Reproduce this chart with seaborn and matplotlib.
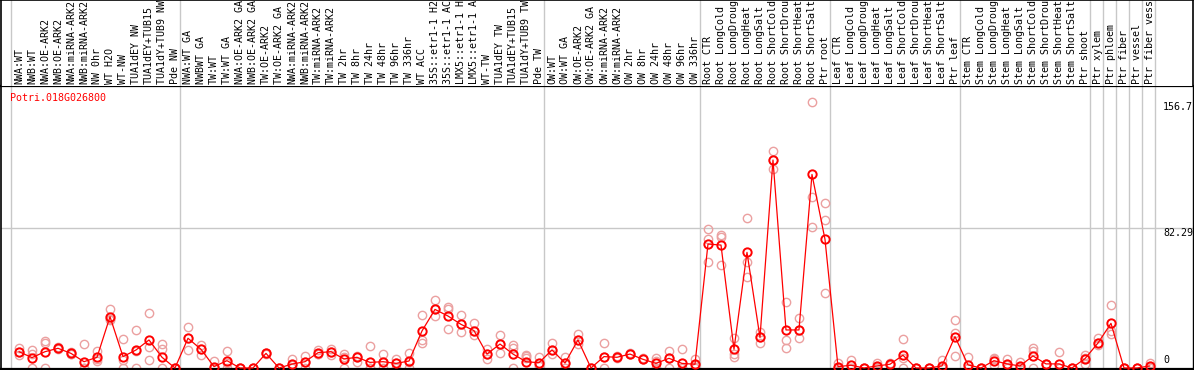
import numpy as np
import pandas as pd
import matplotlib
matplotlib.use("Agg")
import matplotlib.pyplot as plt
import seaborn as sns

# Column labels as they are visible in the header (cut to the header height)
labels = [
    "NWA:WT", "NWB:WT", "NWA:OE-ARK2", "NWB:OE-ARK2", "NWA:miRNA-ARK2", "NWB:miRNA-ARK2",
    "NW 0hr", "WT H2O", "WT-NW", "TUA1dEY NW", "TUA1dEY+TUB15", "TUA1dY+TUB9 NW", "Pde NW",
    "NWA:WT GA", "NWBWT GA", "TW:WT", "TW:WT GA", "NWA:OE-ARK2 GA", "NWB:OE-ARK2 GA",
    "TW:OE-ARK2", "TW:OE-ARK2 GA", "NWA:miRNA-ARK2", "NWB:miRNA-ARK2", "TW:miRNA-ARK2",
    "TW:miRNA-ARK2", "TW 2hr", "TW 8hr", "TW 24hr", "TW 48hr", "TW 96hr", "TW 336hr",
    "WT ACC", "35S::etr1-1 H2", "35S::etr1-1 AC", "LMX5::etr1-1 H", "LMX5::etr1-1 A",
    "WT-TW", "TUA1dEY TW", "TUA1dEY+TUB15", "TUA1dY+TUB9 TW", "Pde TW",
    "OW:WT", "OW:WT GA", "OW:OE-ARK2", "OW:OE-ARK2 GA", "OW:miRNA-ARK2", "OW:miRNA-ARK2",
    "OW 2hr", "OW 8hr", "OW 24hr", "OW 48hr", "OW 96hr", "OW 336hr",
    "Root CTR", "Root LongCold", "Root LongDroug", "Root LongHeat", "Root LongSalt",
    "Root ShortCold", "Root ShortDrou", "Root ShortHeat", "Root ShortSalt", "Ptr root",
    "Leaf CTR", "Leaf LongCold", "Leaf LongDroug", "Leaf LongHeat", "Leaf LongSalt",
    "Leaf ShortCold", "Leaf ShortDrou", "Leaf ShortHeat", "Leaf ShortSalt", "Ptr leaf",
    "Stem CTR", "Stem LongCold", "Stem LongDroug", "Stem LongHeat", "Stem LongSalt",
    "Stem ShortCold", "Stem ShortDrou", "Stem ShortHeat", "Stem ShortSalt", "Ptr shoot",
    "Ptr xylem", "Ptr phloem", "Ptr fiber", "Ptr vessel", "Ptr fiber vess",
]

means = [9.6, 6.1, 9.6, 11.6, 8.6, 3.7, 6.3, 30.2, 6.7, 10.6, 16.5, 6.3, 0,
         17.5, 11.0, 0.8, 4.3, 0, 0, 8.6, 0, 2.3, 3.7, 9.0, 9.6, 5.3, 6.3, 3.3, 3.7, 2.7, 4.1,
         21.8, 34.5, 30.6, 25.7, 22.0, 8.2, 14.1, 8.2, 3.7, 3.1,
         10.6, 2.9, 16.5, 0, 6.7, 6.3, 8.2, 5.1, 2.7, 5.7, 2.7, 2.2,
         73.0, 72.4, 11.0, 68.1, 18.0, 122.5, 22.4, 22.4, 114.0, 75.8,
         0.8, 1.6, 0, 1.2, 2.2, 7.5, 0, 0, 1.2, 18.5,
         1.8, 0, 4.3, 2.4, 1.2, 7.1, 2.4, 2.4, 0, 5.5,
         14.7, 26.3, 0, 0, 1.2]

rep1 = [12.0, 10.6, 15.9, 12.5, 9.5, 14.0, 10.2, 34.5, 16.9, 22.4, 32.2, 14.3, 0,
        24.3, 13.5, 4.1, 10.0, 0, 0, 9.0, 0, 5.3, 7.1, 10.6, 11.2, 8.1, 7.2, 13.0, 8.1, 5.3, 9.0,
        31.2, 40.1, 36.1, 31.2, 26.3, 11.0, 19.4, 13.5, 7.7, 6.7,
        14.6, 6.6, 19.8, 0, 14.5, 7.0, 9.0, 5.7, 5.7, 10.2, 11.0, 5.1,
        81.7, 78.3, 17.5, 88.1, 21.4, 127.8, 38.7, 29.3, 156.7, 97.0,
        2.7, 4.7, 0, 3.1, 3.1, 16.9, 0, 0, 4.7, 28.3,
        6.3, 0, 6.1, 5.3, 3.5, 11.6, 2.4, 9.6, 0, 7.5,
        17.5, 36.9, 0, 0, 3.1]

rep2 = [9.6, 8.0, 14.5, 11.0, 8.0, 0, 5.0, 29.0, 4.7, 10.0, 12.2, 11.0, 0,
        10.6, 7.6, 0, 0, 0, 0, 8.2, 0, 1.5, 0, 8.5, 7.7, 6.5, 3.6, 0, 3.7, 2.7, 3.5,
        16.5, 30.4, 34.5, 21.4, 19.4, 5.1, 8.6, 11.5, 6.8, 2.0,
        8.1, 0, 16.5, 0, 0, 6.0, 8.0, 5.0, 4.0, 0, 0, 0,
        75.8, 77.0, 8.0, 62.6, 18.0, 122.5, 16.5, 17.5, 100.9, 87.2,
        0, 0, 0, 0.5, 2.0, 5.6, 0, 0, 0, 20.4,
        0, 0, 5.0, 2.0, 0.5, 10.0, 2.4, 0, 0, 2.4,
        13.3, 22.0, 0, 0, 0.5]

rep3 = [7.6, 0, 0, 11.5, 8.5, 0, 4.0, 28.0, 0, 0, 4.7, 0, 0,
        17.5, 11.0, 0, 3.0, 0, 0, 8.6, 0, 0, 3.7, 8.0, 9.6, 0, 6.3, 0, 0, 0, 0,
        14.5, 34.5, 22.8, 25.7, 22.0, 8.2, 14.1, 0, 6.1, 1.0,
        10.6, 2.7, 14.0, 0, 6.7, 6.3, 8.2, 5.1, 0, 5.7, 0, 1.5,
        62.6, 60.6, 6.6, 53.4, 14.5, 117.0, 11.6, 22.4, 83.2, 44.0,
        0, 0, 0, 0, 1.5, 0, 0, 0, 0, 7.1,
        0, 0, 1.8, 0, 0, 0, 2.4, 0, 0, 6.0,
        14.5, 20.0, 0, 0, 0]

group_starts = [0, 13, 41, 53, 63, 73, 83, 84, 85, 86, 87, 88]
gene = "Potri.018G026800"
ytick_vals = [156.7, 82.29, 0]
ytick_text = ["156.7", "82.29", "0"]

sns.set_style("white")
plt.rcParams['font.family'] = ['DejaVu Sans Mono', 'DejaVu Sans']

W, H = 1194, 370
fig = plt.figure(figsize=(W / 100, H / 100), dpi=100)
ax = fig.add_axes([1 / W, 1 - 369 / H, 1192 / W, 283 / H])
hx = fig.add_axes([1 / W, 1 - 86 / H, 1192 / W, 86 / H], sharex=ax)

n = len(labels)
xs = np.arange(n)
xmin, xmax = -1.385, 90.31
ymin, ymax = -0.6, 166.1

grid_c = "#c8c8c8"
for b in group_starts:
    for a in (ax, hx):
        a.axvline(b - 0.62, color=grid_c, lw=1.0, zorder=0)
ax.axhline(ytick_vals[1], color=grid_c, lw=1.0, zorder=0)

df_rep = pd.DataFrame({"x": np.tile(xs, 3),
                       "y": np.concatenate([rep1, rep2, rep3])})
sns.lineplot(data=df_rep, x="x", y="y", estimator=None, ax=ax, linestyle="",
             marker="o", markersize=6.0, markerfacecolor="none",
             markeredgecolor="#eba0a0", markeredgewidth=1.0, color="#eba0a0",
             zorder=2)

df_mean = pd.DataFrame({"x": xs, "y": means})
sns.lineplot(data=df_mean, x="x", y="y", estimator=None, ax=ax, color="red",
             lw=0.9, marker="o", markersize=6.0, markerfacecolor="none",
             markeredgecolor="red", markeredgewidth=1.4, zorder=3)

ax.set_xlim(xmin, xmax)
ax.set_ylim(ymin, ymax)
ax.set_xticks([])
ax.set_yticks([])
ax.set_xlabel("")
ax.set_ylabel("")
for s in ax.spines.values():
    s.set_color("black")
ax.spines["top"].set_linewidth(1.6)
ax.spines["bottom"].set_linewidth(1.6)
ax.spines["left"].set_linewidth(1.2)
ax.spines["right"].set_linewidth(1.0)

fs = 7.2
ax.text(-0.69, 162.0, gene, color="red", fontsize=fs, ha="left", va="top")
for v, t in zip(ytick_vals, ytick_text):
    ax.text(88.0, v + (1.5 if v == 0 else 0), t, fontsize=fs,
            ha="left", va="bottom" if v == 0 else "top", color="black")

hx.set_ylim(0, 86)
hx.set_xlim(xmin, xmax)
hx.set_xticks([])
hx.set_yticks([])
for k, s in hx.spines.items():
    s.set_color("black")
    s.set_linewidth(1.2)
hx.spines["bottom"].set_visible(False)
for i, lab in enumerate(labels):
    hx.text(i, 1.5, lab, rotation=90, ha="center", va="bottom",
            fontsize=fs, color="black")

fig.savefig("out.png", dpi=100)
